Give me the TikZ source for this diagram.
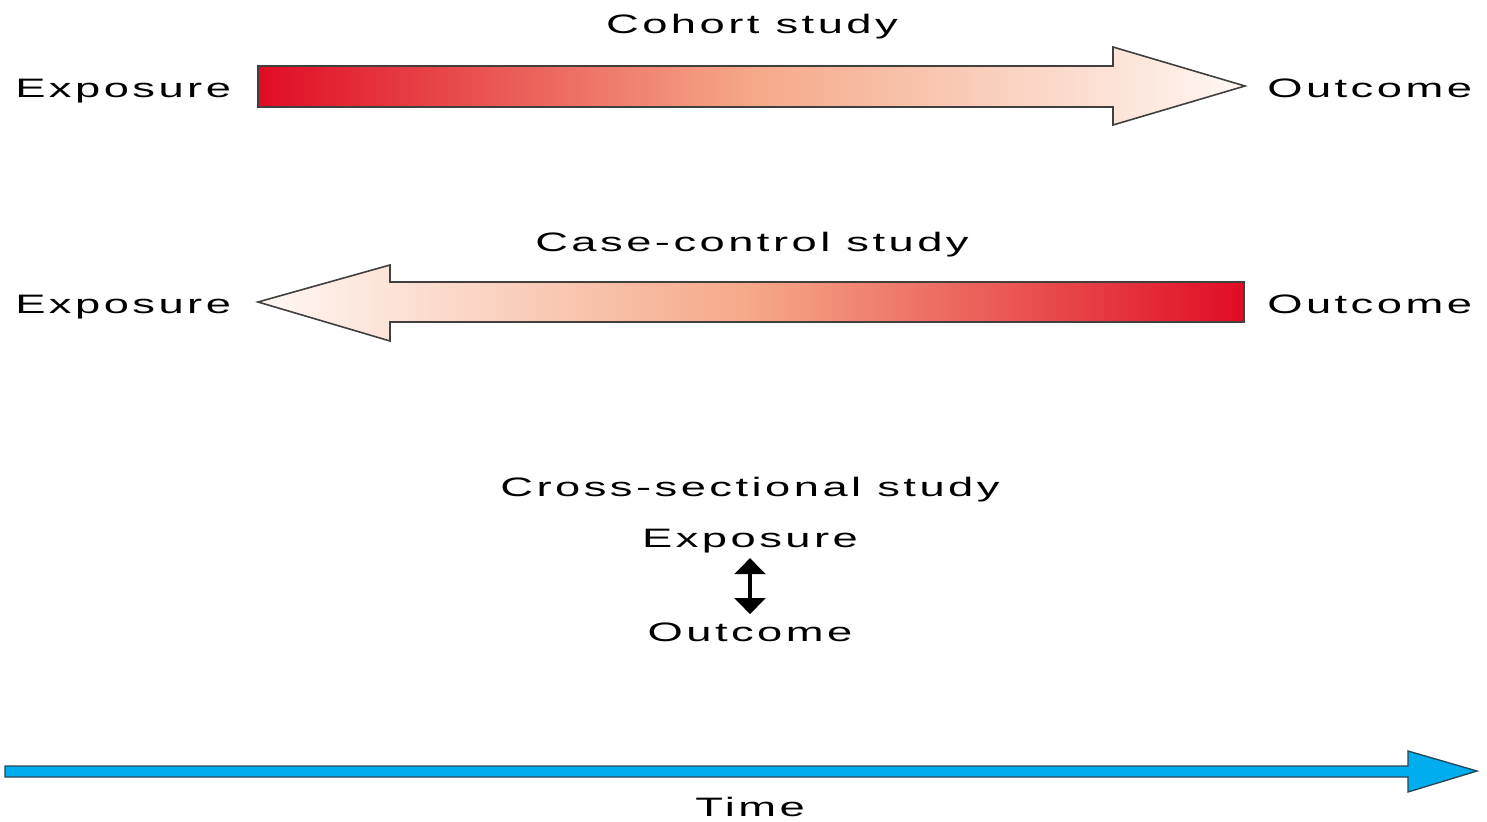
\documentclass[tikz,border=0pt]{standalone}
\usepackage{fontspec}
\newfontfamily\diagfont[FakeStretch=1.7,LetterSpace=13]{Liberation Sans}
\usetikzlibrary{arrows.meta}
\definecolor{deepred}{RGB}{224,12,36}
\definecolor{salmon}{RGB}{245,168,136}
\definecolor{paleskin}{RGB}{255,248,244}
\definecolor{timeblue}{RGB}{0,174,239}
\definecolor{timeedge}{RGB}{40,70,85}

\begin{document}
\begin{tikzpicture}[x=0.75pt, y=-0.75pt, every node/.style={font=\diagfont\fontsize{20}{24}\selectfont, inner sep=0pt, anchor=base}, >={Triangle[length=12pt, width=23pt]}]
	\useasboundingbox (0,0) rectangle (1487,821);
	% cohort study, exposure -> outcome
	\shade[left color=deepred, right color=paleskin, middle color=salmon] (258,66) -- (1113,66) -- (1113,47) -- (1245,86) -- (1113,125) -- (1113,107) -- (258,107) -- cycle;
	\draw[black!75, line width=1.2pt, line join=miter] (258,66) -- (1113,66) -- (1113,47) -- (1245,86) -- (1113,125) -- (1113,107) -- (258,107) -- cycle;
	\node (cohort) at (752,33) {Cohort study};
	\node[anchor=base west] (expA) at (15,97) {Exposure};
	\node[anchor=base west] (outA) at (1267,97) {Outcome};
	% case-control study, outcome -> exposure
	\shade[left color=paleskin, right color=deepred, middle color=salmon] (1244,282) -- (390,282) -- (390,265) -- (258,302) -- (390,341) -- (390,322) -- (1244,322) -- cycle;
	\draw[black!75, line width=1.2pt, line join=miter] (1244,282) -- (390,282) -- (390,265) -- (258,302) -- (390,341) -- (390,322) -- (1244,322) -- cycle;
	\node (casectrl) at (752,251) {Case-control study};
	\node[anchor=base west] (expB) at (15,313) {Exposure};
	\node[anchor=base west] (outB) at (1267,313) {Outcome};
	% cross-sectional study
	\node (cross) at (750,496) {Cross-sectional study};
	\node (expC) at (750,547) {Exposure};
	\node (outC) at (750,641) {Outcome};
	\draw[<->, line width=2.6pt, shorten <=4pt, shorten >=6pt] (expC) -- (outC);
	% time axis
	\filldraw[fill=timeblue, draw=timeedge, line width=1pt] (5,766) -- (1408,766) -- (1408,751) -- (1477,771) -- (1408,792) -- (1408,777) -- (5,777) -- cycle;
	\node (time) at (750,816) {Time};
\end{tikzpicture}
\end{document}
